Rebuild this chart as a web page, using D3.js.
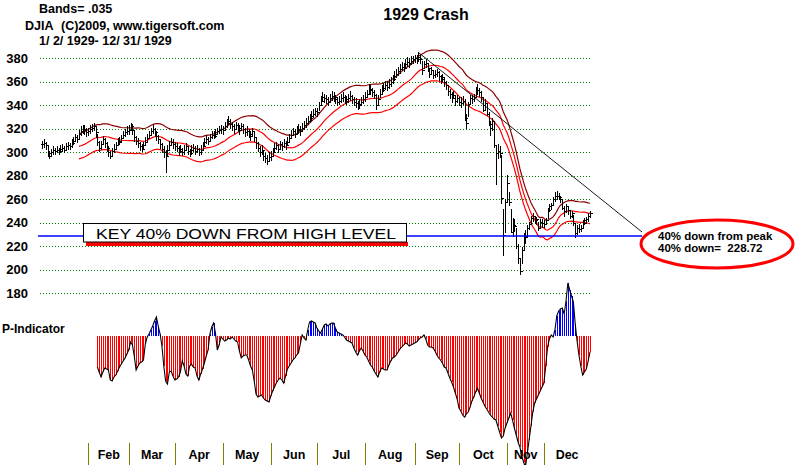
<!DOCTYPE html>
<html>
<head>
<meta charset="utf-8">
<script src="https://cdn.jsdelivr.net/npm/d3@7"></script>
<style>
body{margin:0;background:#fff}
text{font-family:"Liberation Sans",Arial,sans-serif}
.b{font-weight:bold;font-size:12px}
</style>
</head>
<body>
<svg width="800" height="465"></svg>
<script>
'use strict'; //strict mode

//months and trading days in each
var monthNames = ['Jan','Feb','Mar','Apr','May','Jun','Jul','Aug','Sep','Oct','Nov','Dec'];
var monthDays = [26,22,25,26,26,25,26,27,24,26,20,25];

//DJIA 1929 daily high / low / close
var hi = [
 310,311,309,306,301,303,305,304,305,304,306,307,305,308,309,308,311,313,316,315,319,322,323,323,321,321,
 323,324,325,322,316,310,310,314,312,309,305,301,304,307,309,312,313,315,318,320,322,323,
 325,324,318,314,312,309,307,309,313,316,318,321,323,321,318,315,311,308,305,302,306,310,312,311,309,
 308,305,306,304,306,308,305,303,306,307,305,306,304,306,309,312,315,313,316,318,318,320,321,322,323,322,
 326,328,331,328,326,324,326,325,323,325,324,321,322,320,318,321,318,313,309,305,306,302,299,298,300,301,
 304,308,309,307,310,309,311,310,313,316,319,321,320,322,324,322,325,327,329,331,333,335,337,338,338,
 343,348,351,350,349,347,350,352,351,349,347,348,350,351,349,348,350,352,349,347,346,344,345,347,349,351,
 353,358,357,355,353,350,349,354,357,359,361,360,362,364,366,369,371,373,375,377,376,379,381,380,382,382,383,
 383,385,383,378,378,379,376,372,373,370,370,371,369,366,367,364,361,357,354,351,352,349,349,347,
 347,348,345,333,343,349,349,350,356,358,355,352,346,345,341,334,327,329,327,306,307,305,298,252,260,281,
 266,252,244,243,236,222,210,219,231,234,238,241,246,248,246,245,241,243,243,242,
 244,253,256,257,262,266,267,265,263,260,254,256,254,250,250,247,240,238,239,238,242,244,245,248,250
];
var lo = [
 303,304,302,296,294,296,298,298,299,298,299,300,299,301,302,302,304,306,309,308,311,314,316,315,313,314,
 316,317,318,312,305,300,302,306,304,300,296,294,297,299,302,305,306,308,311,313,315,315,
 318,315,309,306,304,301,300,302,305,308,311,314,316,313,310,307,303,299,295,282,297,301,305,303,301,
 300,297,299,297,298,301,298,296,298,300,298,299,297,298,301,305,307,306,309,311,311,312,315,316,316,315,
 318,321,323,320,318,316,319,317,315,318,316,313,314,312,310,313,309,303,300,296,298,293,291,289,292,293,
 296,300,302,299,303,301,304,302,305,308,311,314,312,315,316,314,317,319,321,323,325,327,329,331,330,
 335,340,343,342,341,339,342,344,343,341,339,340,342,343,341,340,342,344,341,339,338,336,337,339,341,343,
 346,350,349,347,345,336,340,346,349,351,353,352,354,356,358,361,363,365,367,369,368,371,373,372,374,375,376,
 375,377,375,366,371,372,368,363,366,362,363,364,361,358,360,356,353,348,345,342,345,339,342,339,
 338,340,327,320,330,340,341,343,346,349,347,343,334,336,331,322,314,318,304,272,294,295,256,212,231,258,
 254,231,228,232,218,205,196,205,217,222,228,234,238,241,239,238,233,235,236,236,
 238,243,249,251,255,258,259,259,257,251,245,248,247,243,244,237,227,230,231,232,235,238,239,241,244
];
var cl = [
 307,308,306,299,297,300,302,301,302,301,303,304,302,305,306,305,308,310,313,311,316,318,320,319,317,318,
 320,321,322,317,309,304,307,311,308,304,300,297,301,303,306,309,310,312,315,317,318,319,
 322,319,313,310,308,305,303,306,309,312,315,318,320,317,314,311,307,303,300,297,302,306,309,307,305,
 304,301,303,300,302,305,301,299,302,304,301,303,300,302,305,309,311,310,313,315,314,316,318,319,320,319,
 322,325,327,324,322,320,323,321,319,322,320,317,318,316,314,318,313,308,304,300,302,297,295,293,296,297,
 300,304,306,303,307,305,308,306,309,312,315,318,316,319,320,318,321,323,325,327,329,331,333,335,334,
 340,344,347,346,345,343,346,348,347,345,343,344,346,347,345,344,346,348,345,343,342,340,341,343,345,347,
 350,354,353,351,349,340,345,350,353,355,357,356,358,360,362,365,367,369,371,373,372,375,377,376,378,379,380,
 379,381,379,370,375,376,372,367,370,366,367,368,365,362,364,360,357,352,350,346,349,344,346,343,
 342,344,329,325,341,346,345,347,353,353,351,347,336,342,333,324,321,327,306,299,301,299,261,230,258,274,
 258,232,238,237,220,210,199,217,229,228,236,239,244,246,242,243,236,241,240,239,
 242,251,254,255,260,263,263,262,260,253,250,254,251,246,248,240,231,236,235,236,240,242,243,246,248
];

//P-Indicator, starts at trading day 30
var pStart = 30;
var pInd = [
 -31,-36,-41,-36,-32,-33,-34,-44,-45,-41,
 -39,-35,-31,-28,-25,-22,-18,-14,-6,-9,
 -20,-34,-30,-27,-26,-24,-8,-1,2,6,
 10,15,19,10,2,-10,-30,-45,-48,-36,
 -35,-40,-44,-43,-41,-36,-25,-30,-38,-40,
 -30,-28,-31,-32,-40,-44,-38,-33,-27,-20,
 -14,2,9,13,3,-14,-9,-1,-3,-5,
 -4,-2,-3,-1,-3,-5,-6,-15,-22,-20,
 -19,-19,-24,-30,-34,-45,-58,-61,-60,-59,
 -62,-64,-65,-66,-60,-55,-51,-47,-44,-42,
 -44,-47,-40,-33,-30,-27,-24,-22,-19,-17,
 -8,1,-2,-4,6,14,15,14,13,8,
 5,3,7,11,12,10,12,13,13,8,
 4,3,2,1,-1,-4,-5,-6,-7,-12,
 -16,-19,-15,-12,-15,-19,-21,-25,-29,-31,
 -35,-38,-41,-36,-32,-33,-34,-34,-29,-25,
 -22,-21,-19,-16,-13,-11,-9,-7,-8,-10,
 -9,-8,-7,-6,-4,-2,-1,1,-3,-9,
 -11,-11,-12,-15,-19,-22,-24,-27,-31,-32,
 -37,-42,-46,-51,-57,-63,-72,-75,-79,-81,
 -78,-76,-71,-65,-61,-56,-52,-57,-62,-66,
 -70,-73,-76,-79,-81,-83,-84,-90,-96,-102,
 -100,-92,-87,-82,-77,-84,-92,-99,-106,-111,
 -120,-126,-131,-118,-104,-90,-76,-67,-63,-59,
 -55,-51,-47,-30,-11,-3,1,-1,6,20,
 25,27,28,22,35,53,46,40,34,12,
 -5,-19,-30,-39,-36,-33,-25,-16
];

var yTicks = [180,200,220,240,260,280,300,320,340,360,380];
var bandPct = 0.035;
var maDays = 21;
var downLevel = 228.72; //40% down from peak

var svg = d3.select('svg');
var n = cl.length;
var x = d3.scaleLinear().domain([0, n - 1]).range([42, 590]);
var y = d3.scaleLinear().domain([180, 380]).range([293.3, 58.3]);
var yP = d3.scaleLinear().domain([0, 100]).range([336, 236]);

//dotted green grid
svg.append('g').selectAll('line').data(yTicks).enter().append('line')
  .attr('x1', 40).attr('x2', 592)
  .attr('y1', function(d){ return Math.round(y(d)) + 0.5; })
  .attr('y2', function(d){ return Math.round(y(d)) + 0.5; })
  .attr('stroke', '#008000').attr('stroke-dasharray', '1,2')
  .attr('shape-rendering', 'crispEdges');

//price labels
var yAxis = svg.append('g').attr('transform', 'translate(28,0)')
  .call(d3.axisLeft(y).tickValues(yTicks).tickSize(0).tickPadding(0));
yAxis.select('.domain').remove();
yAxis.selectAll('text').attr('class', 'b').attr('fill', '#000').attr('font-family', null)
  .attr('font-size', null).style('font-size', '13px');

//moving average bands
var ma = cl.map(function(c, i){
  if(i < maDays - 1) return null;
  return d3.mean(cl.slice(i - maDays + 1, i + 1));
});
var bands = [
  {k: 1 + bandPct, color: '#8b0000'},
  {k: 1, color: '#ff0000'},
  {k: 1 - bandPct, color: '#ff0000'}
];
bands.forEach(function(b){
  var line = d3.line()
    .defined(function(d){ return d !== null; })
    .x(function(d, i){ return x(i); })
    .y(function(d){ return y(d * b.k); });
  svg.append('path').datum(ma).attr('d', line)
    .attr('fill', 'none').attr('stroke', b.color).attr('stroke-width', 1.2);
});

//daily bars
var bars = svg.append('g').attr('stroke', '#000').attr('shape-rendering', 'crispEdges');
cl.forEach(function(c, i){
  var px = Math.round(x(i)) + 0.5;
  var op = i > 0 ? cl[i - 1] : c;
  bars.append('line').attr('x1', px).attr('x2', px).attr('y1', y(hi[i])).attr('y2', y(lo[i]));
  bars.append('line').attr('x1', px - 2).attr('x2', px).attr('y1', Math.round(y(op)) + 0.5).attr('y2', Math.round(y(op)) + 0.5);
  bars.append('line').attr('x1', px).attr('x2', px + 2.5).attr('y1', Math.round(y(c)) + 0.5).attr('y2', Math.round(y(c)) + 0.5);
});

//40% down line and trend line from the peak
var yDown = y(downLevel);
svg.append('line').attr('x1', 38).attr('x2', 642).attr('y1', yDown).attr('y2', yDown)
  .attr('stroke', '#0000ff').attr('stroke-width', 1.5);
var peakI = d3.maxIndex(hi);
svg.append('line').attr('x1', x(peakI)).attr('y1', y(hi[peakI]))
  .attr('x2', 642).attr('y2', 232).attr('stroke', '#000').attr('stroke-width', 0.9);

//key box
svg.append('rect').attr('x', 86).attr('y', 242).attr('width', 322).attr('height', 3.5)
  .attr('fill', '#ff0000').attr('shape-rendering', 'crispEdges');
svg.append('rect').attr('x', 83.5).attr('y', 223.5).attr('width', 323).attr('height', 18.5)
  .attr('fill', '#fff').attr('stroke', '#000').attr('stroke-width', 1);
svg.append('text').attr('x', 96).attr('y', 239).attr('font-size', 15.5)
  .attr('textLength', 300).attr('lengthAdjust', 'spacingAndGlyphs')
  .text('KEY 40% DOWN FROM HIGH LEVEL');

//ellipse note
svg.append('ellipse').attr('cx', 717).attr('cy', 244).attr('rx', 76).attr('ry', 24)
  .attr('fill', 'none').attr('stroke', '#ff0000').attr('stroke-width', 3);
svg.append('text').attr('class', 'b').attr('x', 658).attr('y', 239.5).style('font-size', '11.5px')
  .text('40% down from peak');
svg.append('text').attr('class', 'b').attr('x', 658).attr('y', 251.5).style('font-size', '11.5px')
  .style('white-space', 'pre').text('40% down=  ' + downLevel.toFixed(2));

//P-Indicator
var pg = svg.append('g').attr('shape-rendering', 'crispEdges');
pInd.forEach(function(v, j){
  var px = Math.round(x(pStart + j)) + 0.5;
  pg.append('line').attr('x1', px).attr('x2', px).attr('y1', yP(0)).attr('y2', yP(v))
    .attr('stroke', v >= 0 ? '#0000ff' : '#ff0000');
});
svg.append('path').datum(pInd)
  .attr('d', d3.line().x(function(d, j){ return x(pStart + j); }).y(function(d){ return yP(d); }))
  .attr('fill', 'none').attr('stroke', '#000').attr('stroke-width', 1.1);
svg.append('text').attr('class', 'b').attr('x', 2).attr('y', 333).text('P-Indicator');

//month ticks and names
var starts = [0].concat(Array.from(d3.cumsum(monthDays)));
var mg = svg.append('g');
monthNames.forEach(function(m, k){
  var x0 = x(starts[k]) - 1.5;
  var x1 = k < 11 ? x(starts[k + 1]) - 1.5 : 590;
  if(k > 0){
    mg.append('line').attr('x1', Math.round(x0) + 0.5).attr('x2', Math.round(x0) + 0.5)
      .attr('y1', 443).attr('y2', 465).attr('stroke', '#808000').attr('stroke-width', 1);
    mg.append('text').attr('class', 'b').attr('x', (x0 + x1) / 2).attr('y', 459)
      .attr('text-anchor', 'middle').style('font-size', '12.5px').text(m);
  }
});

//titles
svg.append('text').attr('x', 426).attr('y', 20).attr('text-anchor', 'middle')
  .attr('font-weight', 'bold').attr('font-size', 16).text('1929 Crash');
svg.append('text').attr('class', 'b').attr('x', 39).attr('y', 13).style('font-size', '12.5px').text('Bands= .035');
svg.append('text').attr('class', 'b').attr('x', 25).attr('y', 30).style('font-size', '12.5px').text('DJIA');
svg.append('text').attr('class', 'b').attr('x', 61).attr('y', 30).style('font-size', '12.5px').text('(C)2009, www.tigersoft.com');
svg.append('text').attr('class', 'b').attr('x', 39).attr('y', 45).style('font-size', '12.5px').text('1/ 2/ 1929- 12/ 31/ 1929');
</script>
</body>
</html>
